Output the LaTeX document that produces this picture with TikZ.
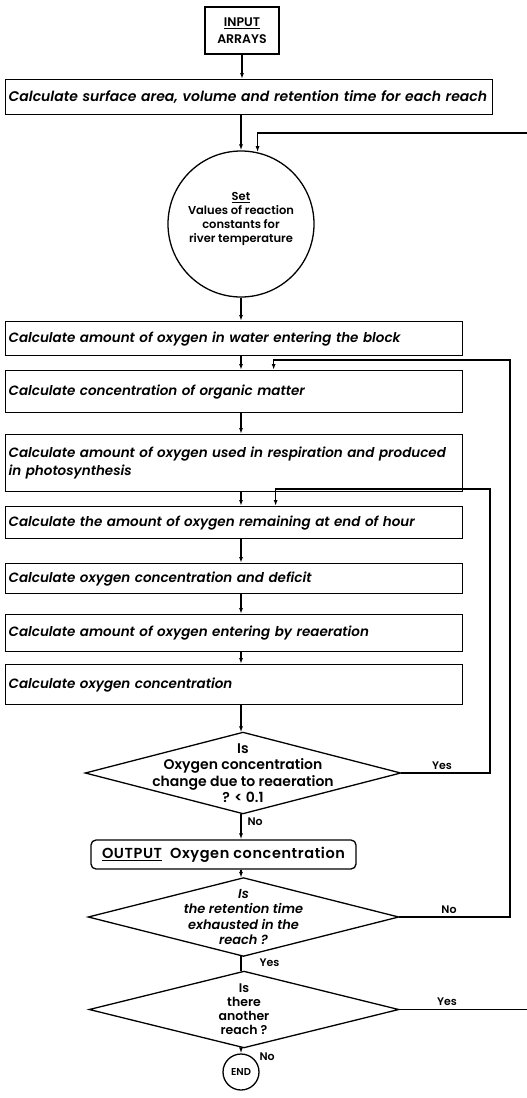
\documentclass[tikz,border=0pt]{standalone}
\usepackage{fontspec}
\setmainfont{Poppins}[BoldFont={Poppins SemiBold}, BoldItalicFont={Poppins SemiBold Italic}]
\usetikzlibrary{arrows.meta}

\begin{document}
\begin{tikzpicture}[x=1pt,y=-1pt,
  line width=1.3pt,
  arr/.style={-{Latex[length=6pt,width=4pt]}},
  calcbox/.style={draw, anchor=north west, minimum width=457pt, text width=451pt,
    inner xsep=3pt, inner ysep=2pt, align=left,
    font=\fontsize{13.5}{18}\selectfont\bfseries\itshape},
  % decision: invisible box, the diamond is drawn through its side midpoints
  decision/.style={inner sep=0pt, align=center,
    font=\fontsize{14}{16.5}\selectfont\bfseries},
  lbl/.style={font=\fontsize{11}{12}\selectfont\bfseries, inner sep=1pt}
]
\clip (0,0) rectangle (527,1098);

% terminal and set-up blocks
\node[draw, minimum width=74pt, minimum height=47pt, inner sep=1pt, align=center,
      font=\fontsize{12.5}{17}\selectfont\bfseries] (input) at (242,30.5)
      {\underline{INPUT}\\ARRAYS};
\node[calcbox, minimum width=487pt, text width=481pt, minimum height=35pt,
      font=\fontsize{14}{18}\selectfont\bfseries\itshape] (b1) at (5,79)
      {Calculate surface area, volume and retention time for each reach};
\node[draw, circle, minimum size=146pt, inner sep=0pt] (set) at (241,224) {};
\node[align=center, font=\fontsize{11.5}{14}\selectfont\bfseries] (settext) at (241,219)
      {\underline{Set}\\Values of reaction\\constants for\\river temperature};

% calculation blocks
\node[calcbox, minimum height=34pt] (b2) at (5,321)
      {Calculate amount of oxygen in water entering the block};
\node[calcbox, minimum height=42pt] (b3) at (5,370)
      {Calculate concentration of organic matter};
\node[calcbox, minimum height=57pt] (b4) at (5,434)
      {Calculate amount of oxygen used in respiration and produced\\in photosynthesis};
\node[calcbox, minimum height=32pt] (b5) at (5,506)
      {Calculate the amount of oxygen remaining at end of hour};
\node[calcbox, minimum height=30pt] (b6) at (5,563)
      {Calculate oxygen concentration and deficit};
\node[calcbox, minimum height=37pt] (b7) at (5,614)
      {Calculate amount of oxygen entering by reaeration};
\node[calcbox, minimum height=40pt] (b8) at (5,664)
      {Calculate oxygen concentration};

% decisions and output
\node[decision, minimum width=314pt, minimum height=80pt] (d1) at (243,773)
      {Is\\Oxygen concentration\\change due to reaeration\\? < 0.1};
\draw (d1.west) -- (d1.north) -- (d1.east) -- (d1.south) -- cycle;
\node[draw, rounded corners=5pt, minimum width=265pt, minimum height=29pt,
      font=\fontsize{14.5}{16}\selectfont\bfseries\addfontfeature{LetterSpace=4}] (out) at (223.5,854.5)
      {\underline{OUTPUT}\ \ Oxygen concentration};
\node[decision, minimum width=309pt, minimum height=77pt,
      font=\fontsize{13}{15.5}\selectfont\bfseries\itshape] (d2) at (243.5,917)
      {Is\\the retention time\\exhausted in the\\reach ?};
\draw (d2.west) -- (d2.north) -- (d2.east) -- (d2.south) -- cycle;
\node[decision, minimum width=308pt, minimum height=75pt,
      font=\fontsize{12.5}{14}\selectfont\bfseries] (d3) at (244,1009.5)
      {Is\\there\\another\\reach ?};
\draw (d3.west) -- (d3.north) -- (d3.east) -- (d3.south) -- cycle;
\node[draw, circle, minimum size=36pt, inner sep=0pt,
      font=\fontsize{10}{10}\selectfont\bfseries] (end) at (241,1072) {END};

% main flow
\draw[arr] (input.south) -- (input.south |- b1.north);
\draw[arr] (set.north |- b1.south) -- (set.north);
\draw[arr] (set.south) -- (set.south |- b2.north);
\draw[arr] (set.south |- b2.south) -- (set.south |- b3.north);
\draw[arr] (set.south |- b3.south) -- (set.south |- b4.north);
\draw[arr] (set.south |- b4.south) -- (set.south |- b5.north);
\draw[arr] (set.south |- b5.south) -- (set.south |- b6.north);
\draw[arr] (set.south |- b6.south) -- (set.south |- b7.north);
\draw[arr] (set.south |- b7.south) -- (set.south |- b8.north);
\draw[arr] (set.south |- b8.south) -- (set.south |- d1.north);
\draw[arr] (set.south |- d1.south) -- (set.south |- out.north);
\draw[arr] (set.south |- out.south) -- (set.south |- d2.north);
\draw (set.south |- d2.south) -- (set.south |- d3.north);
\draw[arr] (set.south |- d3.south) -- (end.north);

% loops back up the chart
\coordinate (yesturn) at (490,489);
\coordinate (noturn) at (510,360);
\coordinate (outturn) at (540,133);
\draw[arr] (d1.east) -| (yesturn) -| ([xshift=41.5pt]b5.north);
\draw[arr] (d2.east) -| (noturn) -| ([xshift=39.5pt]b3.north);
\draw[arr] (d3.east) -| (outturn) -| (set.77);

% branch labels
\node[lbl, anchor=south] (yes1) at (442,771) {Yes};
\node[lbl, anchor=west] (no1) at (246,822) {No};
\node[lbl, anchor=south] (no2) at (449,915) {No};
\node[lbl, anchor=west] (yes2) at (258,963) {Yes};
\node[lbl, anchor=south] (yes3) at (447,1007) {Yes};
\node[lbl, anchor=west] (no3) at (258,1057) {No};
\end{tikzpicture}
\end{document}
